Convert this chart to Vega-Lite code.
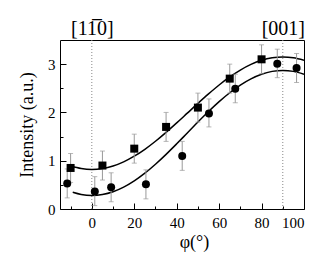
{
  "$schema": "https://vega.github.io/schema/vega-lite/v6.json",
  "width": 244,
  "height": 169,
  "autosize": "none",
  "padding": {"left": 60, "top": 40, "right": 29, "bottom": 64},
  "background": "white",
  "config": {
    "view": {"stroke": "black", "strokeWidth": 1},
    "font": "Liberation Serif",
    "axis": {"labelFont": "Liberation Serif", "titleFont": "Liberation Serif", "labelColor": "black", "titleColor": "black", "tickColor": "black", "grid": false, "domain": false}
  },
  "datasets": {
    "pts": [
      {"phi": -10, "I": 0.85, "lo": 0.55, "hi": 1.15, "s": "A"},
      {"phi": 5, "I": 0.9, "lo": 0.6, "hi": 1.2, "s": "A"},
      {"phi": 20, "I": 1.25, "lo": 0.95, "hi": 1.55, "s": "A"},
      {"phi": 35, "I": 1.7, "lo": 1.4, "hi": 2.0, "s": "A"},
      {"phi": 50, "I": 2.1, "lo": 1.8, "hi": 2.4, "s": "A"},
      {"phi": 65, "I": 2.7, "lo": 2.4, "hi": 3.0, "s": "A"},
      {"phi": 80, "I": 3.1, "lo": 2.8, "hi": 3.4, "s": "A"},
      {"phi": -11.6, "I": 0.53, "lo": 0.23, "hi": 0.83, "s": "B"},
      {"phi": 1.4, "I": 0.36, "lo": 0.07, "hi": 0.67, "s": "B"},
      {"phi": 9.1, "I": 0.45, "lo": 0.15, "hi": 0.75, "s": "B"},
      {"phi": 25.5, "I": 0.51, "lo": 0.21, "hi": 0.81, "s": "B"},
      {"phi": 42.6, "I": 1.1, "lo": 0.8, "hi": 1.4, "s": "B"},
      {"phi": 55.2, "I": 1.98, "lo": 1.7, "hi": 2.28, "s": "B"},
      {"phi": 67.6, "I": 2.49, "lo": 2.2, "hi": 2.79, "s": "B"},
      {"phi": 87.4, "I": 3.01, "lo": 2.72, "hi": 3.31, "s": "B"},
      {"phi": 96.5, "I": 2.92, "lo": 2.62, "hi": 3.22, "s": "B"}
    ],
    "fit": [
      {"phi": -10, "I": 0.89, "s": "A"}, {"phi": -5, "I": 0.838, "s": "A"}, {"phi": 0, "I": 0.82, "s": "A"},
      {"phi": 5, "I": 0.838, "s": "A"}, {"phi": 10, "I": 0.89, "s": "A"}, {"phi": 15, "I": 0.976, "s": "A"},
      {"phi": 20, "I": 1.093, "s": "A"}, {"phi": 25, "I": 1.236, "s": "A"}, {"phi": 30, "I": 1.403, "s": "A"},
      {"phi": 35, "I": 1.587, "s": "A"}, {"phi": 40, "I": 1.783, "s": "A"}, {"phi": 45, "I": 1.985, "s": "A"},
      {"phi": 50, "I": 2.187, "s": "A"}, {"phi": 55, "I": 2.383, "s": "A"}, {"phi": 60, "I": 2.568, "s": "A"},
      {"phi": 65, "I": 2.734, "s": "A"}, {"phi": 70, "I": 2.877, "s": "A"}, {"phi": 75, "I": 2.994, "s": "A"},
      {"phi": 80, "I": 3.08, "s": "A"}, {"phi": 85, "I": 3.132, "s": "A"}, {"phi": 90, "I": 3.15, "s": "A"},
      {"phi": 95, "I": 3.132, "s": "A"}, {"phi": 100, "I": 3.08, "s": "A"},
      {"phi": -9, "I": 0.345, "s": "B"}, {"phi": -5, "I": 0.3, "s": "B"}, {"phi": 0, "I": 0.28, "s": "B"},
      {"phi": 5, "I": 0.3, "s": "B"}, {"phi": 10, "I": 0.358, "s": "B"}, {"phi": 15, "I": 0.454, "s": "B"},
      {"phi": 20, "I": 0.583, "s": "B"}, {"phi": 25, "I": 0.743, "s": "B"}, {"phi": 30, "I": 0.928, "s": "B"},
      {"phi": 35, "I": 1.132, "s": "B"}, {"phi": 40, "I": 1.35, "s": "B"}, {"phi": 45, "I": 1.575, "s": "B"},
      {"phi": 50, "I": 1.8, "s": "B"}, {"phi": 55, "I": 2.018, "s": "B"}, {"phi": 60, "I": 2.223, "s": "B"},
      {"phi": 65, "I": 2.407, "s": "B"}, {"phi": 70, "I": 2.567, "s": "B"}, {"phi": 75, "I": 2.696, "s": "B"},
      {"phi": 80, "I": 2.792, "s": "B"}, {"phi": 85, "I": 2.85, "s": "B"}, {"phi": 90, "I": 2.87, "s": "B"},
      {"phi": 95, "I": 2.85, "s": "B"}, {"phi": 100, "I": 2.792, "s": "B"}
    ],
    "refs": [{"phi": 0}, {"phi": 90}]
  },
  "resolve": {"axis": {"x": "independent", "y": "independent"}},
  "layer": [
    {
      "data": {"name": "refs"},
      "mark": {"type": "rule", "color": "#888888", "strokeDash": [1, 2], "strokeWidth": 1},
      "encoding": {
        "x": {"field": "phi", "type": "quantitative", "scale": {"domain": [-15, 100], "nice": false, "zero": false},
          "axis": {"orient": "top", "values": [0, 90], "labelExpr": "datum.value == 0 ? '[11\u03050]' : '[001]'", "ticks": false, "labelPadding": 2, "labelFont": "Liberation Serif", "labelFontSize": 20, "title": null}}
      }
    },
    {
      "data": {"name": "fit"},
      "mark": {"type": "line", "color": "black", "strokeWidth": 1.5, "interpolate": "monotone", "clip": true},
      "encoding": {
        "x": {"field": "phi", "type": "quantitative",
          "axis": {"orient": "bottom", "values": [0, 20, 40, 60, 80, 100], "tickSize": -6, "labelPadding": 12, "labelFont": "Liberation Serif", "labelFontSize": 15, "title": "φ(°)", "titleFont": "Liberation Serif", "titleFontSize": 18, "titleFontWeight": "normal", "titleX": 134, "titleY": 33, "titleBaseline": "middle", "titleAnchor": null, "titleAlign": "center"}},
        "y": {"field": "I", "type": "quantitative", "scale": {"domain": [0, 3.5], "nice": false},
          "axis": {"orient": "left", "values": [0, 1, 2, 3], "tickSize": -6, "labelPadding": 11, "labelFont": "Liberation Serif", "labelFontSize": 15, "title": "Intensity (a.u.)", "titleFont": "Liberation Serif", "titleFontSize": 18, "titleFontWeight": "normal", "titleX": -33, "titleY": 84.5, "titleBaseline": "middle", "titleAlign": "center", "titleAngle": -90}},
        "detail": {"field": "s"}
      }
    },
    {
      "data": {"name": "pts"},
      "mark": {"type": "rule", "color": "#999999", "strokeWidth": 1},
      "encoding": {
        "x": {"field": "phi", "type": "quantitative",
          "axis": {"orient": "bottom", "values": [-10, 10, 30, 50, 70, 90], "tickSize": -3, "labels": false, "title": null}},
        "y": {"field": "lo", "type": "quantitative",
          "axis": {"orient": "left", "values": [0.5, 1.5, 2.5], "tickSize": -3, "labels": false, "title": null}},
        "y2": {"field": "hi"}
      }
    },
    {
      "data": {"name": "pts"},
      "mark": {"type": "tick", "color": "#999999", "orient": "horizontal", "size": 5, "thickness": 1},
      "encoding": {
        "x": {"field": "phi", "type": "quantitative", "axis": null},
        "y": {"field": "lo", "type": "quantitative", "axis": null}
      }
    },
    {
      "data": {"name": "pts"},
      "mark": {"type": "tick", "color": "#999999", "orient": "horizontal", "size": 5, "thickness": 1},
      "encoding": {
        "x": {"field": "phi", "type": "quantitative", "axis": null},
        "y": {"field": "hi", "type": "quantitative", "axis": null}
      }
    },
    {
      "data": {"name": "pts"},
      "mark": {"type": "point", "filled": true, "color": "black", "opacity": 1, "size": 64},
      "encoding": {
        "x": {"field": "phi", "type": "quantitative", "axis": null},
        "y": {"field": "I", "type": "quantitative", "axis": null},
        "shape": {"field": "s", "type": "nominal", "scale": {"domain": ["A", "B"], "range": ["square", "circle"]}, "legend": null}
      }
    }
  ]
}
